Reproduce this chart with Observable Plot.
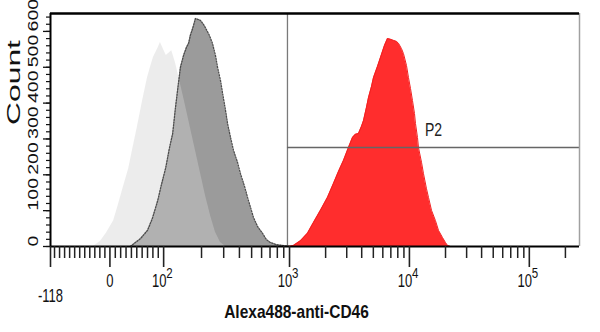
<!DOCTYPE html>
<html>
<head>
<meta charset="utf-8">
<script src="https://cdn.jsdelivr.net/npm/d3@7"></script>
<script src="https://cdn.jsdelivr.net/npm/@observablehq/plot@0.6"></script>
<style>
  body { margin: 0; background: #fff; }
  svg { display: block; }
</style>
</head>
<body>
<div id="chart"></div>
<script>
// ---------- data ----------
const xMin = -118, xMax = 262143;
const countMax = 650;

// unstained control (light grey)
const unstainedX = [-33, -19, -7, 7, 16, 25, 35, 42, 51, 61, 70, 76, 81, 89, 94, 100, 105, 116, 124, 134, 146, 163, 179, 196, 215, 236, 258, 283, 310];
const unstainedCount = [0, 14, 37, 72, 117, 165, 217, 268, 332, 407, 471, 502, 527, 552, 569, 549, 533, 546, 513, 463, 407, 332, 268, 206, 142, 86, 40, 11, 0];

// isotype control (mid grey)
const isotypeX = [38, 57, 70, 79, 89, 96, 104, 111, 118, 124, 129, 136, 144, 152, 158, 163, 170, 179, 189, 196, 207, 215, 231, 244, 258, 268, 283, 294, 310, 322, 340, 359, 386, 408, 439, 464, 490, 517, 557, 610, 656, 706, 788, 879, 1019];
const isotypeCount = [0, 22, 45, 78, 128, 173, 220, 273, 315, 385, 435, 500, 533, 556, 567, 589, 608, 636, 633, 631, 620, 610, 589, 567, 533, 500, 463, 427, 380, 343, 304, 268, 235, 203, 168, 137, 109, 81, 56, 37, 19, 11, 5, 3, 0];

// Alexa488-anti-CD46 (red)
const cd46X = [982, 1079, 1234, 1412, 1585, 1813, 2073, 2327, 2561, 2819, 3103, 3351, 3549, 3760, 3983, 4140, 4385, 4556, 4827, 5015, 5416, 5738, 6197, 6564, 6953, 7365, 7803, 8104, 8588, 8923, 9454, 9822, 10207, 10607, 11022, 11236, 11675, 11900, 12613, 13105, 13883, 14422, 15282, 16495, 17478, 18875, 19993, 20774, 22006];
const cd46Count = [0, 3, 16, 37, 67, 101, 137, 176, 209, 240, 276, 304, 313, 315, 335, 351, 388, 415, 446, 471, 502, 527, 561, 580, 578, 575, 572, 567, 552, 538, 505, 471, 441, 407, 371, 343, 304, 276, 235, 203, 161, 137, 101, 72, 45, 25, 11, 3, 0];

// gate P2
const gateName = ["P2"];
const gateX1 = 963, gateX2 = xMax, gateCount = 276;

// axis ticks and labels
const xZeroTick = [0];
const xZeroLabel = ["0"];
const xEdgeLabel = ["-118"];
const decadeTicks = [100, 1000, 10000, 100000];
const decadeBase = ["10", "10", "10", "10"];
const decadeExp = ["2", "3", "4", "5"];
const xMajorTicks = [-118, 0, 100, 1000, 10000, 100000];
const xMinorTicks = [-110, -100, -90, -80, -70, -60, -50, -40, -30, -20, -10,
  10, 20, 30, 40, 50, 60, 70, 80, 90,
  200, 300, 400, 500, 600, 700, 800, 900,
  2000, 3000, 4000, 5000, 6000, 7000, 8000, 9000,
  20000, 30000, 40000, 50000, 60000, 70000, 80000, 90000, 200000];
const yMajorTicks = [0, 100, 200, 300, 400, 500, 600];
const yTickLabels = ["0", "100", "200", "300", "400", "500", "600"];
const yMinorTicks = d3.range(0, 641, 20);
const yTitle = ["Count"];
const xTitle = ["Alexa488-anti-CD46"];

// ---------- biexponential-like display transform ----------
const LIN_POS = 0.448, LIN_NEG = 0.42, W2 = 1.05;
function T(v) {
  if (v >= 1000) return 2 + W2 + Math.log10(v / 1000);
  if (v >= 100) return 2 + W2 * Math.log10(v / 100);
  if (v >= 0) return 2 - LIN_POS * (100 - v) / 100;
  return 2 - LIN_POS + LIN_NEG * v / 100;
}
function Tinv(t) {
  if (t >= 2 + W2) return 1000 * Math.pow(10, t - 2 - W2);
  if (t >= 2) return 100 * Math.pow(10, (t - 2) / W2);
  if (t >= 2 - LIN_POS) return 100 - (2 - t) / LIN_POS * 100;
  return (t - 2 + LIN_POS) / LIN_NEG * 100;
}
const gateMid = Tinv((T(gateX1) + T(gateX2)) / 2);

const toRows = (xs, cs) => xs.map((x, i) => ({x, count: cs[i]}));
const unstained = toRows(unstainedX, unstainedCount);
const isotype = toRows(isotypeX, isotypeCount);
const cd46 = toRows(cd46X, cd46Count);
const decades = decadeTicks.map((v, i) => ({v, base: decadeBase[i], exp: decadeExp[i]}));

const font = "Liberation Sans, Arial, Helvetica, sans-serif";

const chart = Plot.plot({
  width: 600,
  height: 332,
  marginLeft: 50,
  marginRight: 21,
  marginTop: 13,
  marginBottom: 86,
  style: {fontFamily: font, background: "#fff", color: "#000"},
  x: {type: "linear", transform: T},
  y: {domain: [0, countMax]},
  marks: [
    // histograms
    Plot.areaY(isotype, {x: "x", y: "count", fill: "#9b9b9b", curve: "linear"}),
    Plot.areaY(unstained, {x: "x", y: "count", fill: "#d0d0d0", fillOpacity: 0.41, curve: "linear"}),
    Plot.lineY(isotype, {x: "x", y: "count", stroke: "#4d4d4d", strokeWidth: 1.3, strokeDasharray: "1.3,1.5", curve: "linear"}),
    Plot.areaY(cd46, {x: "x", y: "count", fill: "#ff2d2d", curve: "linear"}),
    Plot.lineY(cd46, {x: "x", y: "count", stroke: "#f22020", strokeWidth: 1, curve: "linear"}),
    // gate
    Plot.ruleX([gateX1], {x: d => d, stroke: "#7a7a7a", strokeWidth: 1.3}),
    Plot.ruleY([gateCount], {y: d => d, x1: () => gateX1, x2: () => gateX2, stroke: "#666", strokeWidth: 1.5}),
    // frame
    Plot.ruleX([xMax], {x: d => d, stroke: "#a0a0a0", strokeWidth: 1.5}),
    Plot.ruleY([countMax], {y: d => d, x1: () => xMin, x2: () => xMax, stroke: "#000", strokeWidth: 2.5}),
    Plot.ruleY([0], {y: d => d, x1: () => xMin, x2: () => xMax, stroke: "#000", strokeWidth: 2}),
    Plot.ruleX([xMin], {x: d => d, stroke: "#000", strokeWidth: 2}),
    // axes ticks
    Plot.axisX(xMinorTicks, {anchor: "bottom", tickSize: 12, tickFormat: () => "", label: null, stroke: "#222", strokeWidth: 1.5}),
    Plot.axisX(xMajorTicks, {anchor: "bottom", tickSize: 21, tickFormat: () => "", label: null, stroke: "#222", strokeWidth: 1.6}),
    Plot.axisY(yMinorTicks, {anchor: "left", tickSize: 4, tickFormat: () => "", label: null, stroke: "#111", strokeWidth: 1.2}),
    Plot.axisY(yMajorTicks, {anchor: "left", tickSize: 7, tickFormat: () => "", label: null, stroke: "#111", strokeWidth: 1.3}),
    // text marks (order matters for stretching below)
    Plot.text(yMajorTicks, {y: d => d, text: (d, i) => yTickLabels[i], frameAnchor: "left", dx: -13, rotate: -90, fontSize: 14, fill: "#111"}),
    Plot.text(yTitle, {text: d => d, frameAnchor: "left", dx: -31, dy: -5, rotate: -90, fontSize: 18, fill: "#111"}),
    Plot.text(xZeroTick, {x: d => d, text: (d, i) => xZeroLabel[i], frameAnchor: "bottom", dy: 40, fontSize: 13, fill: "#111"}),
    Plot.text(decades, {x: "v", text: "base", frameAnchor: "bottom", dx: -4.5, dy: 40, fontSize: 13, fill: "#111"}),
    Plot.text(decades, {x: "v", text: "exp", frameAnchor: "bottom", dx: 2.5, dy: 31, textAnchor: "start", fontSize: 11.5, fill: "#111"}),
    Plot.text([xMin], {x: d => d, text: (d, i) => xEdgeLabel[i], frameAnchor: "bottom", dy: 55, fontSize: 13, fill: "#111"}),
    Plot.text(gateName, {x: () => gateMid, y: () => gateCount, text: d => d, dy: -12, fontSize: 14, fill: "#222"}),
    Plot.text(xTitle, {text: d => d, frameAnchor: "bottom", dx: -18.5, dy: 71, fontSize: 15.5, fontWeight: "bold", fill: "#111"})
  ]
});

// stretch the text the way the (resampled) original picture shows it
const stretches = [[1.4, 1], [1.77, 1], [1, 1.35], [1, 1.35], [1, 1.35], [1, 1.35], [1, 1.35], [1, 1.2]];
chart.querySelectorAll('g[aria-label="text"]').forEach((g, gi) => {
  const [sx, sy] = stretches[gi] || [1, 1];
  g.querySelectorAll("text").forEach(t => {
    const tr = t.getAttribute("transform") || "";
    const x = t.getAttribute("x"), y = t.getAttribute("y");
    let extra = "";
    if (x != null || y != null) {
      extra = ` translate(${+x || 0},${+y || 0})`;
      t.removeAttribute("x");
      t.removeAttribute("y");
    }
    t.setAttribute("transform", `${tr}${extra} scale(${sx},${sy})`);
  });
});

document.getElementById("chart").appendChild(chart);
</script>
</body>
</html>
